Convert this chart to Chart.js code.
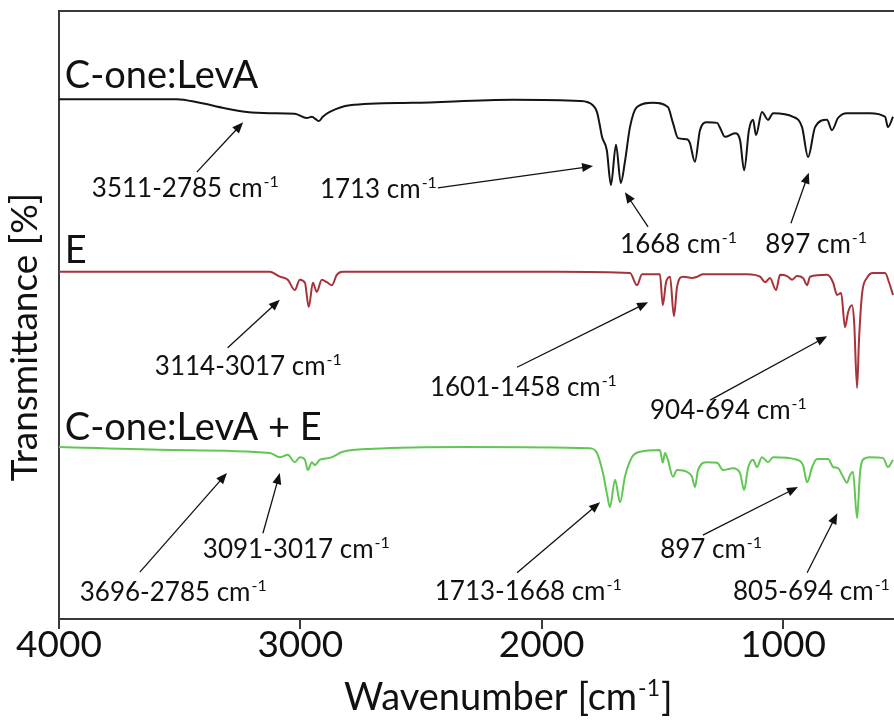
<!DOCTYPE html>
<html>
<head>
<meta charset="utf-8">
<script src="https://cdn.jsdelivr.net/npm/chart.js@4.4.1/dist/chart.umd.min.js"></script>
<style>
  html, body { margin: 0; padding: 0; background: #fff; }
  #wrap { width: 894px; height: 724px; position: relative; }
</style>
</head>
<body>
<div id="wrap"><canvas id="irChart"></canvas></div>
<script>
// --- data (wavenumber in cm-1, offset transmittance) ---
const seriesNames = ['C-one:LevA', 'E', 'C-one:LevA + E'];
const xTicks = [4000, 3000, 2000, 1000];

const wnLevA = [4000,3512,3417,3313,3222,3127,3023,2973,2952,2936,2923,2907,2878,2795,2534,2119,1842,1788,1771,1759,1750,1730,1713,1692,1672,1655,1634,1605,1539,1477,1456,1435,1398,1386,1365,1344,1315,1273,1261,1240,1199,1178,1161,1141,1124,1112,1087,1062,1041,958,921,896,867,818,797,772,735,640,577,565,544];
const tLevA = [85.5,85.5,84.9,84.0,83.4,83.2,83.1,82.4,82.6,82.2,81.9,82.6,83.4,84.5,84.9,85.4,85.2,84.5,83.4,81.2,79.3,77.1,71.4,78.0,71.7,75.2,80.9,84.2,84.9,84.2,81.6,79.1,78.9,78.3,75.2,80.4,81.7,81.6,80.8,79.3,79.9,78.8,73.8,80.4,82.1,79.6,83.4,82.1,83.2,82.6,80.9,76.0,80.9,82.1,80.4,82.4,83.2,83.2,82.6,80.9,82.6];

const wnE = [4000,3126,3085,3052,3023,3002,2981,2965,2948,2932,2911,2890,2869,2849,2824,1937,1634,1605,1584,1510,1498,1485,1468,1452,1439,1414,1377,1356,1331,1149,1095,1074,1054,1029,1012,983,962,942,917,900,888,817,792,776,759,743,730,714,705,693,685,672,652,627,577,560,544];
const tE = [57.1,57.1,56.3,55.8,54.1,55.8,55.3,51.3,55.3,53.8,55.8,55.4,54.9,56.6,57.1,57.1,56.9,54.9,56.7,56.7,51.6,55.3,56.3,49.8,54.6,56.3,56.1,56.3,56.7,56.7,56.3,55.4,56.1,54.1,56.6,56.4,55.8,56.4,56.1,54.9,56.3,56.6,55.3,53.3,53.6,48.0,50.5,51.6,48.7,38.0,45.9,53.6,56.1,56.9,56.9,55.3,53.3];

const wnMix = [4000,3529,3126,3085,3052,3023,3002,2981,2969,2952,2940,2919,2878,2824,2700,2310,1800,1771,1746,1730,1717,1696,1675,1655,1626,1592,1510,1498,1489,1477,1456,1439,1398,1377,1365,1352,1315,1273,1248,1207,1178,1161,1145,1124,1108,1087,1062,1041,942,917,900,879,859,813,792,772,751,735,722,710,693,681,669,640,586,565,544];
const tMix = [28.3,27.8,27.3,26.6,27.0,25.8,26.6,26.2,24.5,25.8,25.3,26.2,26.5,27.5,28.0,28.3,28.1,27.3,24.0,20.7,18.4,22.9,19.2,23.4,26.6,27.5,27.8,25.7,27.3,26.2,23.4,24.5,24.2,23.4,21.7,24.5,25.8,25.7,24.5,24.8,24.0,21.2,24.8,26.2,25.0,26.6,25.8,26.6,26.2,25.3,22.5,25.0,26.3,26.3,25.0,24.8,23.4,22.4,23.7,24.2,16.6,24.0,26.2,26.6,26.5,25.0,26.2];

// annotation placement, in data coordinates [wavenumber, transmittance]
const nameAt = [[3976, 87.3], [3976, 58.6], [3976, 29.4]];
const notes = [
    { text: '3511-2785', at: [3864, 69.4], from: [3429, 73.5], to: [3237, 81.7] },
    { text: '1713',      at: [2919, 69.2], from: [2430, 70.9], to: [1787, 74.5] },
    { text: '1668',      at: [1675, 60.2], from: [1559, 64.5], to: [1655, 70.2] },
    { text: '897',       at: [1074, 60.2], from: [967, 65.1],  to: [893, 73.4] },
    { text: '3114-3017', at: [3603, 40.1], from: [3301, 44.6], to: [3085, 52.5] },
    { text: '1601-1458', at: [2463, 36.7], from: [2102, 41.4], to: [1559, 52.1] },
    { text: '904-694',   at: [1551, 32.9], from: [1302, 36.0], to: [817, 46.5] },
    { text: '3696-2785', at: [3914, 3.0],  from: [3665, 7.7],  to: [3304, 24.0] },
    { text: '3091-3017', at: [3404, 10.0], from: [3155, 14.1], to: [3085, 24.0] },
    { text: '1713-1668', at: [2443, 3.1],  from: [2102, 7.6],  to: [1758, 19.2] },
    { text: '897',       at: [1509, 10.0], from: [1332, 13.8], to: [938, 21.7] },
    { text: '805-694',   at: [1207, 3.1],  from: [900, 7.6],   to: [775, 17.4] }
];

const FONT = 'Lato, "Open Sans", "DejaVu Sans", sans-serif';

function toPoints(xs, ys) {
    return xs.map((v, i) => ({ x: v, y: ys[i] }));
}

// text with a small raised "-1"
function drawWithSup(ctx, base, sup, x, y, size) {
    ctx.font = size + 'px ' + FONT;
    ctx.fillText(base, x, y);
    const w = ctx.measureText(base).width;
    ctx.font = Math.round(size * 0.6) + 'px ' + FONT;
    ctx.fillText(sup, x + w + 1, y - size * 0.38);
}

function supWidth(ctx, base, sup, size) {
    ctx.font = size + 'px ' + FONT;
    const w = ctx.measureText(base).width;
    ctx.font = Math.round(size * 0.6) + 'px ' + FONT;
    return w + 1 + ctx.measureText(sup).width;
}

function drawArrow(ctx, x1, y1, x2, y2) {
    const ang = Math.atan2(y2 - y1, x2 - x1);
    const hl = 11, hw = 4.5;
    ctx.beginPath();
    ctx.moveTo(x1, y1);
    ctx.lineTo(x2 - Math.cos(ang) * hl * 0.8, y2 - Math.sin(ang) * hl * 0.8);
    ctx.stroke();
    ctx.beginPath();
    ctx.moveTo(x2, y2);
    ctx.lineTo(x2 - Math.cos(ang) * hl - Math.sin(ang) * hw, y2 - Math.sin(ang) * hl + Math.cos(ang) * hw);
    ctx.lineTo(x2 - Math.cos(ang) * hl + Math.sin(ang) * hw, y2 - Math.sin(ang) * hl - Math.cos(ang) * hw);
    ctx.closePath();
    ctx.fill();
}

const overlay = {
    id: 'overlay',
    afterDraw(chart) {
        const { ctx, chartArea, scales: { x, y } } = chart;
        ctx.save();

        // top frame line
        ctx.strokeStyle = '#3a3a3a';
        ctx.lineWidth = 2;
        ctx.beginPath();
        ctx.moveTo(chartArea.left, chartArea.top);
        ctx.lineTo(chartArea.right, chartArea.top);
        ctx.stroke();

        ctx.fillStyle = '#111';
        ctx.textBaseline = 'alphabetic';
        ctx.textAlign = 'left';

        // spectrum names
        ctx.font = '38px ' + FONT;
        seriesNames.forEach((name, i) => {
            ctx.fillText(name, x.getPixelForValue(nameAt[i][0]), y.getPixelForValue(nameAt[i][1]));
        });

        // band annotations
        ctx.strokeStyle = '#111';
        ctx.lineWidth = 1.3;
        notes.forEach(n => {
            drawWithSup(ctx, n.text + ' cm', '-1', x.getPixelForValue(n.at[0]), y.getPixelForValue(n.at[1]), 26);
            drawArrow(ctx,
                x.getPixelForValue(n.from[0]), y.getPixelForValue(n.from[1]),
                x.getPixelForValue(n.to[0]), y.getPixelForValue(n.to[1]));
        });

        // x axis title
        const xw = supWidth(ctx, 'Wavenumber [cm', '-1', 38);
        const xCenter = 502;
        drawWithSup(ctx, 'Wavenumber [cm', '-1', xCenter - xw / 2, 710, 38);
        ctx.font = '38px ' + FONT;
        ctx.fillText(']', xCenter + xw / 2 + 1, 710);

        // y axis title
        ctx.save();
        ctx.translate(25, 337);
        ctx.rotate(-Math.PI / 2);
        ctx.font = '37px ' + FONT;
        ctx.textAlign = 'center';
        ctx.textBaseline = 'middle';
        ctx.fillText('Transmittance [%]', 0, 0);
        ctx.restore();

        ctx.restore();
    }
};

new Chart(document.getElementById('irChart'), {
    type: 'line',
    data: {
        datasets: [
            { label: seriesNames[0], data: toPoints(wnLevA, tLevA), borderColor: '#141414' },
            { label: seriesNames[1], data: toPoints(wnE, tE), borderColor: '#a8323a' },
            { label: seriesNames[2], data: toPoints(wnMix, tMix), borderColor: '#62c655' }
        ]
    },
    options: {
        responsive: true,
        maintainAspectRatio: false,
        animation: false,
        layout: { padding: { top: 11, right: 0, left: 0, bottom: 0 } },
        elements: {
            line: { borderWidth: 2, cubicInterpolationMode: 'monotone', fill: false },
            point: { radius: 0 }
        },
        scales: {
            x: {
                type: 'linear',
                reverse: true,
                min: 540,
                max: 4000,
                afterBuildTicks: (scale) => { scale.ticks = xTicks.map(v => ({ value: v })); },
                afterFit: (scale) => { scale.height = 105; },
                grid: { display: true, drawOnChartArea: false, drawTicks: true, tickLength: 10, color: '#3a3a3a', lineWidth: 2 },
                border: { display: true, color: '#3a3a3a', width: 2 },
                ticks: {
                    color: '#111',
                    padding: -6,
                    maxRotation: 0,
                    font: { family: FONT, size: 37 },
                    callback: (value) => String(value)
                }
            },
            y: {
                min: 0,
                max: 100,
                afterFit: (scale) => { scale.width = 59; },
                grid: { display: false },
                border: { display: true, color: '#3a3a3a', width: 2 },
                ticks: { display: false }
            }
        },
        plugins: {
            legend: { display: false },
            tooltip: { enabled: false }
        }
    },
    plugins: [overlay]
});
</script>
</body>
</html>
